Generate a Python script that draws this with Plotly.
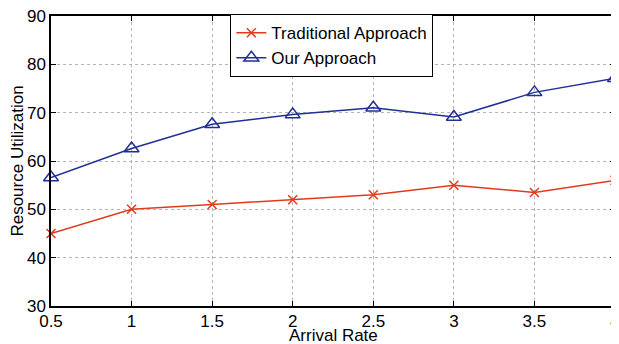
import plotly.graph_objects as go

arrival_rate = [0.5, 1, 1.5, 2, 2.5, 3, 3.5, 4]
traditional = [45, 50, 51, 52, 53, 55, 53.5, 56]
ours = [56.6, 62.6, 67.6, 69.6, 71.0, 69.1, 74.2, 77.1]
x_ticks = [0.5, 1, 1.5, 2, 2.5, 3, 3.5, 4]
x_tick_labels = ["0.5", "1", "1.5", "2", "2.5", "3", "3.5", "4"]
y_ticks = [30, 40, 50, 60, 70, 80, 90]

red = "#e23a1c"
blue = "#1f2f96"
FONT = "Liberation Sans, Arial, Helvetica, sans-serif"

fig = go.Figure()
fig.add_trace(go.Scatter(
    x=arrival_rate, y=traditional, name="Traditional Approach",
    mode="lines+markers", cliponaxis=False,
    line=dict(color=red, width=1.5),
    marker=dict(symbol="x-thin-open", size=9, color=red, line=dict(color=red, width=1.5)),
))
fig.add_trace(go.Scatter(
    x=arrival_rate, y=ours, name="Our Approach",
    mode="lines+markers", cliponaxis=False,
    line=dict(color=blue, width=1.5),
    marker=dict(symbol="triangle-up-open", size=13, color=blue, line=dict(color=blue, width=1.5)),
))

axis_common = dict(
    automargin=False,
    ticklabeloverflow="allow",
    showline=True, linecolor="black", linewidth=1.5, mirror="ticks",
    ticks="inside", ticklen=5, tickcolor="black", tickwidth=1,
    showgrid=True, gridcolor="#b4b4b4", griddash="dot", gridwidth=1,
    zeroline=False,
    tickfont=dict(family=FONT, size=17, color="black"),
    title_font=dict(family=FONT, size=17, color="black"),
)

# page body has an 8px default margin; margins are reduced by 8px to compensate
fig.update_layout(
    width=619, height=344,
    margin=dict(l=43, r=12, t=7, b=46),
    paper_bgcolor="white", plot_bgcolor="white",
    font=dict(family=FONT, size=17, color="black"),
    xaxis=dict(range=[0.5, 4], tickvals=x_ticks, ticktext=x_tick_labels,
               ticklabelstandoff=-1, **axis_common),
    yaxis=dict(range=[30, 90], tickvals=y_ticks,
               title=dict(text="Resource Utilization", standoff=4),
               ticklabelstandoff=0, **axis_common),
    legend=dict(x=0.318, y=1.003, xanchor="left", yanchor="top",
                bgcolor="white", bordercolor="black", borderwidth=1,
                font=dict(family=FONT, size=17), itemwidth=30, tracegroupgap=0),
    showlegend=True,
    annotations=[dict(text="Arrival Rate", xref="paper", yref="paper",
                      x=0.5, y=-0.103, xanchor="center", yanchor="middle",
                      showarrow=False, font=dict(family=FONT, size=17, color="black"))],
)

fig.write_html("out.html")
